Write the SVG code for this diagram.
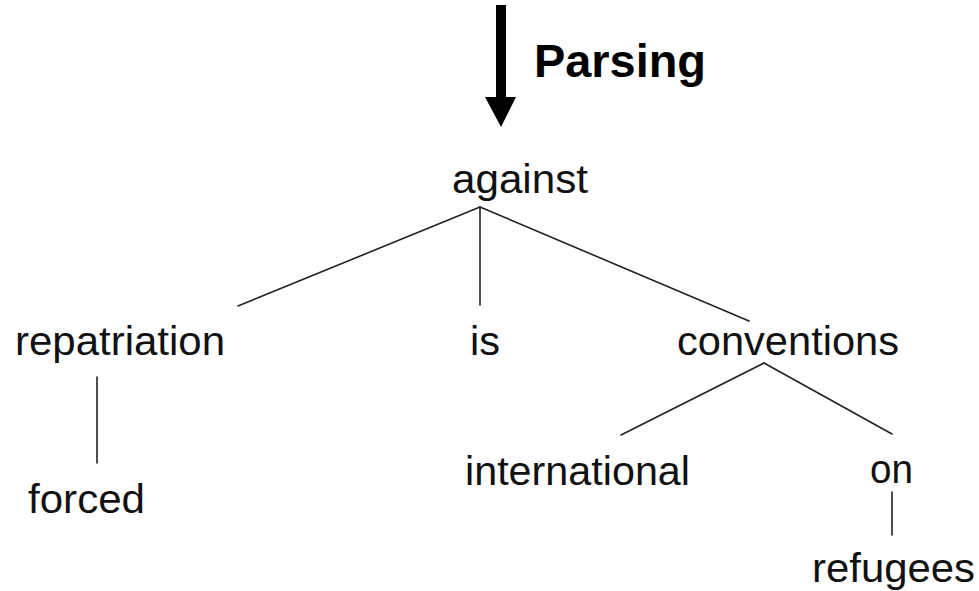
<svg xmlns="http://www.w3.org/2000/svg" width="979" height="591" viewBox="0 0 979 591">
  <style>
    .word { font-family: "Liberation Sans", Arial, sans-serif; font-size: 40px; fill: #111; }
    .title { font-family: "Liberation Sans", Arial, sans-serif; font-size: 46px; font-weight: bold; fill: #000; }
    .edge { stroke: #222; stroke-width: 1.6; fill: none; stroke-linecap: round; }
  </style>
  <rect width="979" height="591" fill="#fff"/>

  <!-- parsing direction arrow -->
  <g id="parsing">
    <polygon points="496,5 506,5 506,97 516,97 501,127 485,97 496,97" fill="#000"/>
    <text class="title" x="534" y="77" textLength="172" lengthAdjust="spacingAndGlyphs">Parsing</text>
  </g>

  <!-- dependency edges -->
  <g id="edges">
    <line class="edge" x1="480" y1="207" x2="238" y2="306"/>
    <line class="edge" x1="480" y1="207" x2="480" y2="305"/>
    <line class="edge" x1="480" y1="207" x2="749" y2="321"/>
    <line class="edge" x1="97" y1="377" x2="97" y2="463"/>
    <line class="edge" x1="764" y1="363" x2="621" y2="435"/>
    <line class="edge" x1="764" y1="363" x2="892" y2="434"/>
    <line class="edge" x1="892" y1="492" x2="892" y2="535"/>
  </g>

  <g id="n-against"><text class="word" x="452" y="193" textLength="136" lengthAdjust="spacingAndGlyphs">against</text></g>
  <g id="n-repatriation"><text class="word" x="15" y="355" textLength="210" lengthAdjust="spacingAndGlyphs">repatriation</text></g>
  <g id="n-is"><text class="word" x="470" y="355" textLength="30" lengthAdjust="spacingAndGlyphs">is</text></g>
  <g id="n-conventions"><text class="word" x="677" y="355" textLength="222" lengthAdjust="spacingAndGlyphs">conventions</text></g>
  <g id="n-forced"><text class="word" x="28" y="513" textLength="117" lengthAdjust="spacingAndGlyphs">forced</text></g>
  <g id="n-international"><text class="word" x="465" y="485" textLength="225" lengthAdjust="spacingAndGlyphs">international</text></g>
  <g id="n-on"><text class="word" x="870" y="483" textLength="43" lengthAdjust="spacingAndGlyphs">on</text></g>
  <g id="n-refugees"><text class="word" x="812" y="582" textLength="163" lengthAdjust="spacingAndGlyphs">refugees</text></g>
</svg>
